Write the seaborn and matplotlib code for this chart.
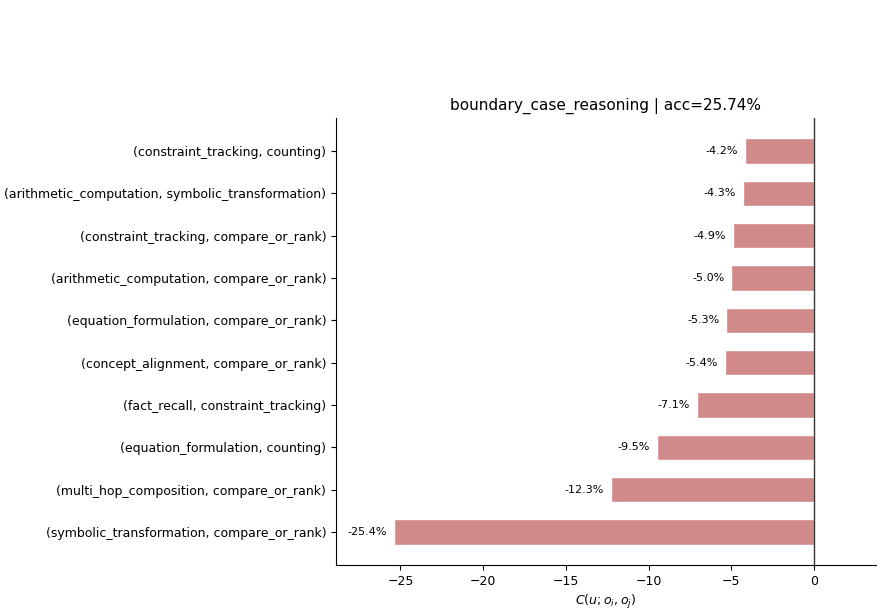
import matplotlib
matplotlib.use("Agg")
import matplotlib.pyplot as plt
import seaborn as sns
import pandas as pd

pairs = [
    "(constraint_tracking, counting)",
    "(arithmetic_computation, symbolic_transformation)",
    "(constraint_tracking, compare_or_rank)",
    "(arithmetic_computation, compare_or_rank)",
    "(equation_formulation, compare_or_rank)",
    "(concept_alignment, compare_or_rank)",
    "(fact_recall, constraint_tracking)",
    "(equation_formulation, counting)",
    "(multi_hop_composition, compare_or_rank)",
    "(symbolic_transformation, compare_or_rank)",
]
values = [-4.2, -4.3, -4.9, -5.0, -5.3, -5.4, -7.1, -9.5, -12.3, -25.4]
title = "boundary_case_reasoning | acc=25.74%"

df = pd.DataFrame({"pair": pairs, "value": values})

sns.set_style("ticks", rc={"text.color": "black", "axes.labelcolor": "black",
                           "xtick.color": "black", "ytick.color": "black",
                           "axes.edgecolor": "black"})
plt.rcParams["font.family"] = ["DejaVu Sans"]
fig = plt.figure(figsize=(8.84, 6.12), dpi=100)
ax = fig.add_axes([0.380, 0.077, 0.611, 0.730])
sns.barplot(data=df, x="value", y="pair", orient="h", color="#d08a8a",
            saturation=1, width=0.6, ax=ax)
ax.axvline(0, color="#333333", lw=1)
for i, v in enumerate(values):
    ax.text(v - 0.4, i, f"{v:.1f}%", ha="right", va="center", fontsize=8)
ax.set_xlim(-28.9, 3.75)
ax.set_ylim(9.78, -0.78)
ax.set_ylabel("")
ax.set_xlabel(r"$C(u; o_i, o_j)$", fontsize=9)
ax.set_title(title, fontsize=11)
ax.tick_params(labelsize=9)
sns.despine(ax=ax)
fig.savefig("out.png", dpi=100)
